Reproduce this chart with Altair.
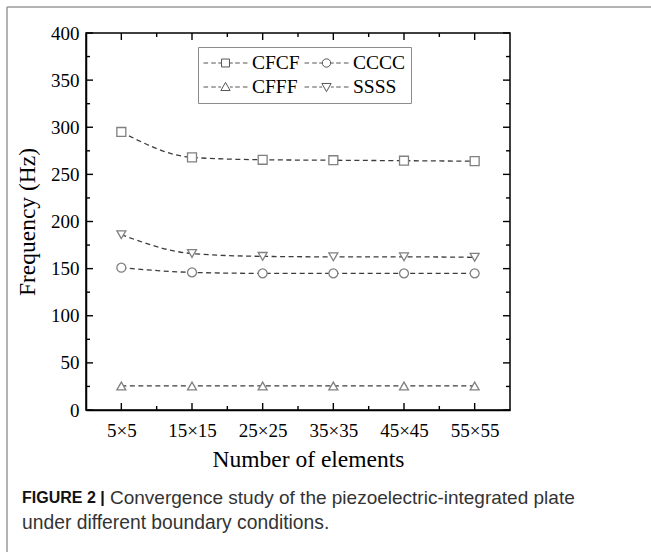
import altair as alt
import pandas as pd

# ---- data ----
elements = [5, 15, 25, 35, 45, 55]
element_labels = ["5×5", "15×15", "25×25", "35×35", "45×45", "55×55"]
series_names = ["CFCF", "CCCC", "CFFF", "SSSS"]
cfcf = [295, 268, 265.5, 265, 264.5, 264]
cccc = [151, 146, 145, 145, 145, 145]
cfff = [25.5, 25.5, 25.5, 25.5, 25.5, 25.5]
ssss = [186, 166, 163, 162.5, 162.5, 162]
marker_shapes = ["square", "circle", "triangle-up", "triangle-down"]

y_major = [0, 50, 100, 150, 200, 250, 300, 350, 400]
y_minor = [25, 75, 125, 175, 225, 275, 325, 375]
x_major = elements
x_minor = [10, 20, 30, 40, 50]

# ---- layout ----
W, H = 424, 377
SERIF = "Liberation Serif"
SANS = "Liberation Sans"

series_values = {"CFCF": cfcf, "CCCC": cccc, "CFFF": cfff, "SSSS": ssss}
rows = []
for name in series_names:
    for n, v in zip(elements, series_values[name]):
        rows.append({"series": name, "n": n, "f": v})
df = pd.DataFrame(rows)

label_expr = "[" + ",".join("'%s'" % s for s in element_labels) + "][indexof([" + \
    ",".join(str(e) for e in elements) + "], datum.value)]"

xscale = alt.Scale(domain=[0, 60], nice=False, zero=False)
yscale = alt.Scale(domain=[0, 400], nice=False)
xaxis = alt.Axis(values=x_major, labelExpr=label_expr, ticks=False, tickSize=0,
                 grid=False, labelPadding=11, titlePadding=7, title="Number of elements",
                 titleX=W / 2 + 10)
yaxis = alt.Axis(values=y_major, ticks=False, tickSize=0, grid=False,
                 labelPadding=7, titlePadding=11, title="Frequency (Hz)")


def X(field):
    return alt.X(field + ":Q", scale=xscale, axis=xaxis)


def Y(field):
    return alt.Y(field + ":Q", scale=yscale, axis=yaxis)


# legend symbols: dashed line with marker in the middle (unit coords, 22 px/unit)
dash_l = "M-1,0H-0.79M-0.65,0H-0.44M-0.33,0H-0.2"
dash_r = "M0.2,0H0.33M0.44,0H0.65M0.79,0H1"
mk = {
    "square": "M-0.18,-0.18H0.18V0.18H-0.18Z",
    "circle": "M0.19,0A0.19,0.19 0 1,1 -0.19,0A0.19,0.19 0 1,1 0.19,0Z",
    "triangle-up": "M0,-0.21L0.21,0.16L-0.21,0.16Z",
    "triangle-down": "M0,0.21L0.21,-0.16L-0.21,-0.16Z",
}
legend_paths = [dash_l + dash_r + mk[s] for s in marker_shapes]

one = pd.DataFrame({"a": [0]})

lines = alt.Chart(df).mark_line(
    interpolate="monotone", strokeDash=[5, 3.5], color="#3c3c3c", strokeWidth=1.3
).encode(x=X("n"), y=Y("f"), detail="series:N")

points = alt.Chart(df).mark_point(
    filled=True, fill="white", stroke="#808080", strokeWidth=1.3, size=80, opacity=1
).encode(
    x=X("n"), y=Y("f"),
    shape=alt.Shape("series:N", scale=alt.Scale(domain=series_names, range=marker_shapes), legend=None),
)

legend_layer = alt.Chart(df).mark_point(opacity=0).encode(
    x=X("n"), y=Y("f"),
    shape=alt.Shape(
        "series:N",
        scale=alt.Scale(domain=series_names, range=legend_paths),
        legend=alt.Legend(
            title=None, orient="none", legendX=112, legendY=14, columns=2,
            direction="horizontal",
            strokeColor="#8c8c8c", fillColor="white", padding=5,
            rowPadding=2, columnPadding=4, labelOffset=4, clipHeight=22,
            labelFont=SERIF, labelFontSize=19.5, labelColor="black",
            symbolSize=1936, symbolStrokeWidth=1, symbolStrokeColor="#555555",
            symbolFillColor="white", symbolOpacity=1,
        ),
    ),
)

# inward ticks on all four sides
ymaj = pd.DataFrame({"v": y_major})
ymin = pd.DataFrame({"v": y_minor})
xmaj = pd.DataFrame({"v": x_major})
xmin = pd.DataFrame({"v": x_minor})
tick_style = dict(color="black", strokeWidth=1.4)
ticks = [
    alt.Chart(ymaj).mark_rule(**tick_style).encode(y=Y("v"), x=alt.value(0), x2=alt.value(7)),
    alt.Chart(ymin).mark_rule(**tick_style).encode(y=Y("v"), x=alt.value(0), x2=alt.value(4)),
    alt.Chart(ymaj).mark_rule(**tick_style).encode(y=Y("v"), x=alt.value(W), x2=alt.value(W - 7)),
    alt.Chart(ymin).mark_rule(**tick_style).encode(y=Y("v"), x=alt.value(W), x2=alt.value(W - 4)),
    alt.Chart(xmaj).mark_rule(**tick_style).encode(x=X("v"), y=alt.value(H), y2=alt.value(H - 7)),
    alt.Chart(xmin).mark_rule(**tick_style).encode(x=X("v"), y=alt.value(H), y2=alt.value(H - 4)),
    alt.Chart(xmaj).mark_rule(**tick_style).encode(x=X("v"), y=alt.value(0), y2=alt.value(7)),
    alt.Chart(xmin).mark_rule(**tick_style).encode(x=X("v"), y=alt.value(0), y2=alt.value(4)),
]

# figure frame (top and left edges visible)
frame_top = alt.Chart(one).mark_rule(color="#9a9a9a", strokeWidth=1.5).encode(
    x=alt.value(-79), x2=alt.value(700), y=alt.value(-26))
frame_left = alt.Chart(one).mark_rule(color="#9a9a9a", strokeWidth=1.5).encode(
    x=alt.value(-79), y=alt.value(-26), y2=alt.value(600))

# caption
cap_bold = alt.Chart(one).mark_text(
    align="left", baseline="middle", font=SANS,
    fontSize=16, fontWeight="bold", color="#111111"
).encode(x=alt.value(-64), y=alt.value(465), text=alt.value("FIGURE 2 |"))
cap_1 = alt.Chart(one).mark_text(
    align="left", baseline="middle", font=SANS, fontSize=19, color="#333333"
).encode(x=alt.value(24), y=alt.value(465),
         text=alt.value("Convergence study of the piezoelectric-integrated plate"))
cap_2 = alt.Chart(one).mark_text(
    align="left", baseline="middle", font=SANS, fontSize=19.3, color="#333333"
).encode(x=alt.value(-64), y=alt.value(490),
         text=alt.value("under different boundary conditions."))

chart = alt.layer(
    frame_top, frame_left, lines, points, legend_layer, *ticks, cap_bold, cap_1, cap_2
).resolve_scale(shape="independent").properties(
    width=W, height=H,
    padding={"left": 86, "top": 33, "right": 141, "bottom": 142},
    autosize=alt.AutoSizeParams(type="none"),
    background="white",
).configure_view(stroke="black", strokeWidth=1.5).configure_axis(
    domainColor="black", domainWidth=1.5,
    labelFont=SERIF, labelFontSize=19, labelColor="black",
    titleFont=SERIF, titleFontSize=23.5, titleFontWeight="normal", titleColor="black",
)

chart.save("out.html", embed_options={"renderer": "svg", "actions": False})
